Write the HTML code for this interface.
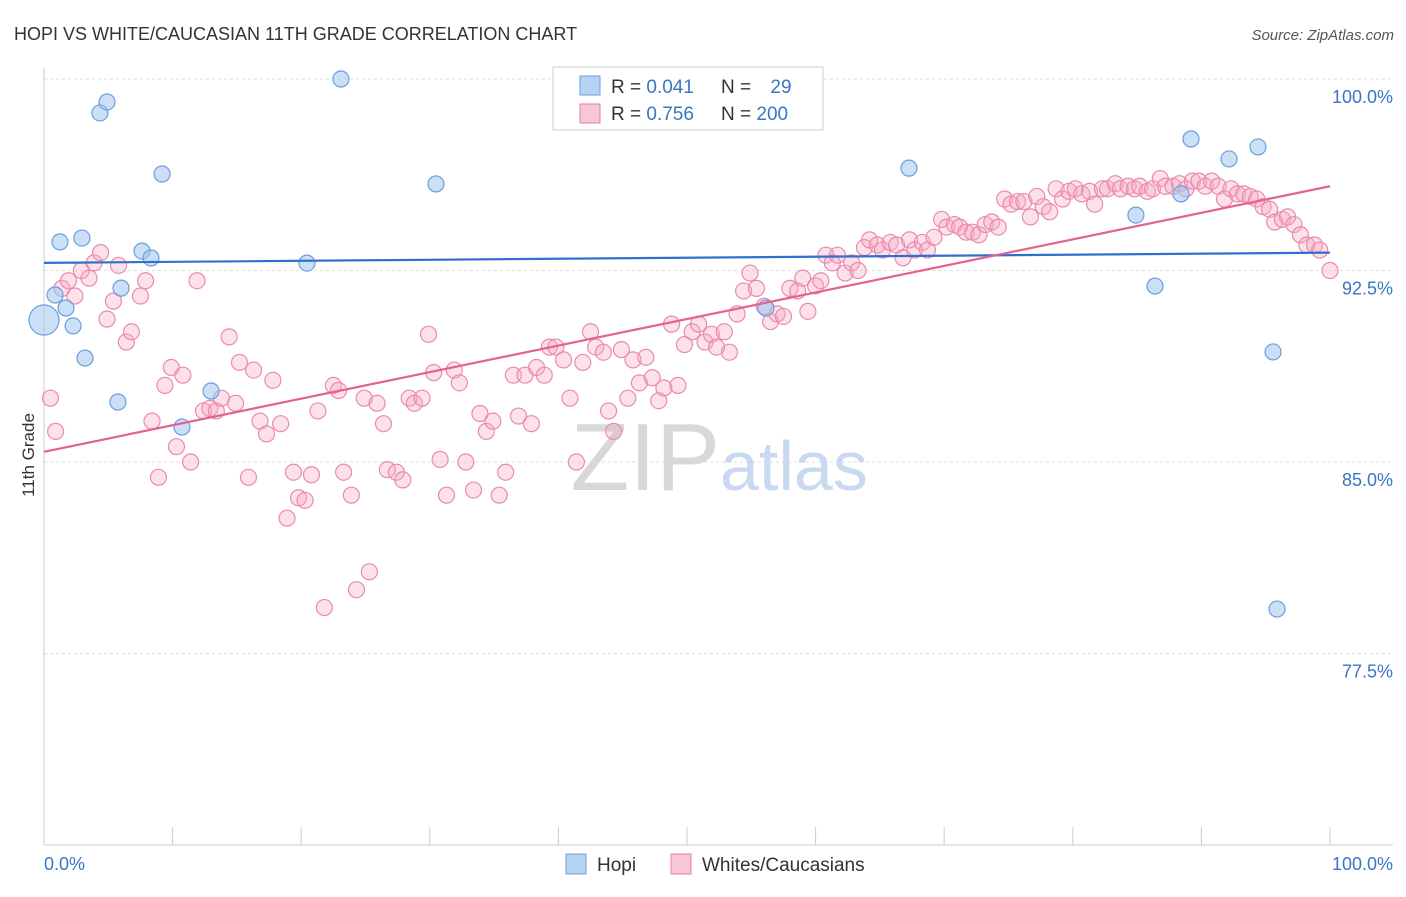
<!DOCTYPE html>
<html><head><meta charset="utf-8"><style>
body{margin:0;background:#fff;font-family:"Liberation Sans",sans-serif;}
svg text{font-family:"Liberation Sans",sans-serif;}
</style></head><body>
<svg id="chart" width="1406" height="892" viewBox="0 0 1406 892">
<text x="14" y="40" font-size="18" fill="#333">HOPI VS WHITE/CAUCASIAN 11TH GRADE CORRELATION CHART</text>
<text x="1394" y="40" font-size="15" fill="#555" text-anchor="end" font-style="italic">Source: ZipAtlas.com</text>
<g id="grid"></g>
<g id="axes"></g>
<text x="720" y="490" font-size="96" fill="#d8d8d8" text-anchor="end" font-family="Liberation Serif">ZIP</text>
<text x="720" y="490" font-size="70" fill="#c9daf0">atlas</text>
<g id="pink"></g>
<g id="blue"></g>
<g id="lines"></g>
<text x="34" y="455" font-size="17" fill="#333" text-anchor="middle" transform="rotate(-90 34 455)">11th Grade</text>
<g>
<rect x="553" y="67" width="270" height="63" fill="#fff" stroke="#ccc"/>
<rect x="580" y="76" width="20" height="19" fill="#b8d2f4" stroke="#6a9fdc"/>
<rect x="580" y="104" width="20" height="19" fill="#f9c6d6" stroke="#e87ea4"/>
<text x="611" y="93" font-size="19" fill="#333">R = <tspan fill="#3a75c4">0.041</tspan></text>
<text x="721" y="93" font-size="19" fill="#333">N = <tspan fill="#3a75c4" dx="14">29</tspan></text>
<text x="611" y="120" font-size="19" fill="#333">R = <tspan fill="#3a75c4">0.756</tspan></text>
<text x="721" y="120" font-size="19" fill="#333">N = <tspan fill="#3a75c4">200</tspan></text>
</g>
<g>
<rect x="566" y="854" width="20" height="20" fill="#b8d2f4" stroke="#6a9fdc"/>
<text x="597" y="871" font-size="19" fill="#333">Hopi</text>
<rect x="671" y="854" width="20" height="20" fill="#f9c6d6" stroke="#e87ea4"/>
<text x="702" y="871" font-size="19" fill="#333">Whites/Caucasians</text>
</g>
</svg>
<script>
const yTicks=[100,92.5,85,77.5];
const yTickLabels=["100.0%","92.5%","85.0%","77.5%"];
const xEndLabels=["0.0%","100.0%"];
const hopiX=[0,0.86,1.24,1.71,2.26,2.95,3.19,4.35,4.9,5.75,5.99,7.62,8.32,9.18,10.73,12.99,20.45,23.09,30.48,56.14,67.26,84.91,86.39,88.41,89.19,92.15,94.4,95.57,95.88];
const hopiY=[90.56,91.54,93.62,91.03,90.33,93.77,89.07,98.67,99.1,87.35,91.81,93.26,92.99,96.28,86.37,87.78,92.79,100,95.89,91.03,96.51,94.67,91.89,95.5,97.65,96.87,97.34,89.31,79.24];
const whiteX=[0.5,0.9,1.4,1.9,2.4,2.9,3.5,3.9,4.4,4.9,5.4,5.8,6.4,6.8,7.5,7.9,8.4,8.9,9.4,9.9,10.3,10.8,11.4,11.9,12.4,12.9,13.4,13.8,14.4,14.9,15.2,15.9,16.3,16.8,17.3,17.8,18.4,18.9,19.4,19.8,20.3,20.8,21.3,21.8,22.5,22.9,23.3,23.9,24.3,24.9,25.3,25.9,26.4,26.7,27.4,27.9,28.4,28.8,29.4,29.9,30.3,30.8,31.3,31.9,32.3,32.8,33.4,33.9,34.4,34.9,35.4,35.9,36.5,36.9,37.4,37.9,38.3,38.9,39.3,39.8,40.4,40.9,41.4,41.9,42.5,42.9,43.5,43.9,44.3,44.9,45.4,45.8,46.3,46.8,47.3,47.8,48.2,48.8,49.3,49.8,50.4,50.9,51.4,51.9,52.3,52.9,53.3,53.9,54.4,54.9,55.4,56.0,56.5,57.0,57.5,58.0,58.6,59.0,59.4,60.0,60.4,60.8,61.3,61.7,62.3,62.8,63.3,63.8,64.2,64.8,65.2,65.8,66.3,66.8,67.3,67.7,68.3,68.7,69.2,69.8,70.2,70.8,71.2,71.7,72.2,72.7,73.2,73.7,74.2,74.7,75.2,75.7,76.2,76.7,77.2,77.7,78.2,78.7,79.2,79.7,80.2,80.7,81.3,81.7,82.3,82.7,83.3,83.7,84.3,84.8,85.2,85.8,86.2,86.8,87.2,87.8,88.3,88.8,89.3,89.8,90.3,90.8,91.3,91.8,92.3,92.8,93.3,93.8,94.3,94.8,95.3,95.7,96.3,96.7,97.2,97.7,98.2,98.8,99.2,100];
const whiteY=[87.5,86.2,91.8,92.1,91.5,92.5,92.2,92.8,93.2,90.6,91.3,92.7,89.7,90.1,91.5,92.1,86.6,84.4,88.0,88.7,85.6,88.4,85.0,92.1,87.0,87.1,87.0,87.5,89.9,87.3,88.9,84.4,88.6,86.6,86.1,88.2,86.5,82.8,84.6,83.6,83.5,84.5,87.0,79.3,88.0,87.8,84.6,83.7,80.0,87.5,80.7,87.3,86.5,84.7,84.6,84.3,87.5,87.3,87.5,90.0,88.5,85.1,83.7,88.6,88.1,85.0,83.9,86.9,86.2,86.6,83.7,84.6,88.4,86.8,88.4,86.5,88.7,88.4,89.5,89.5,89.0,87.5,85.0,88.9,90.1,89.5,89.3,87.0,86.2,89.4,87.5,89.0,88.1,89.1,88.3,87.4,87.9,90.4,88.0,89.6,90.1,90.4,89.7,90.0,89.5,90.1,89.3,90.8,91.7,92.4,91.8,91.1,90.5,90.8,90.7,91.8,91.7,92.2,90.9,91.9,92.1,93.1,92.8,93.1,92.4,92.8,92.5,93.4,93.7,93.5,93.3,93.6,93.5,93.0,93.7,93.3,93.6,93.3,93.8,94.5,94.2,94.3,94.2,94.0,94.0,93.9,94.3,94.4,94.2,95.3,95.1,95.2,95.2,94.6,95.4,95.0,94.8,95.7,95.3,95.6,95.7,95.5,95.6,95.1,95.7,95.7,95.9,95.7,95.8,95.7,95.8,95.6,95.7,96.1,95.8,95.8,95.9,95.7,96.0,96.0,95.8,96.0,95.8,95.3,95.7,95.5,95.5,95.4,95.3,95.0,94.9,94.4,94.5,94.6,94.3,93.9,93.5,93.5,93.3,92.5];
const hopiTrend=[92.8,93.2];
const whiteTrend=[85.4,95.8];
const NS='http://www.w3.org/2000/svg';
function xs(v){return 44+v*12.86;}
function ys(v){return 79+(100-v)/7.5*191.5;}
function mk(t,a,p){const e=document.createElementNS(NS,t);for(const k in a)e.setAttribute(k,a[k]);p.appendChild(e);return e;}
const grid=document.getElementById('grid'),axes=document.getElementById('axes');
yTicks.forEach((v,i)=>{
 const l=mk('line',{x1:44,x2:1393,y1:ys(v),y2:ys(v),stroke:'#ddd','stroke-dasharray':'3,3'},grid);
 
 
 const t=mk('text',{x:1393,y:ys(v)+24,'font-size':18,fill:'#3a75c4','text-anchor':'end'},axes);
 t.textContent=yTickLabels[i];
 
 
});
mk('line',{x1:44,x2:44,y1:68,y2:845,stroke:'#ccc'},axes);
mk('line',{x1:44,x2:1393,y1:845,y2:845,stroke:'#ccc'},axes);
for(let i=0;i<=10;i++){const tk=mk('line',{x1:xs(i*10),x2:xs(i*10),y1:827,y2:845,stroke:'#ccc'},axes);
 
 }
const xl0=mk('text',{x:44,y:870,'font-size':18,fill:'#3a75c4'},axes);xl0.textContent=xEndLabels[0];


const xl1=mk('text',{x:1393,y:870,'font-size':18,fill:'#3a75c4','text-anchor':'end'},axes);xl1.textContent=xEndLabels[1];


const pink=document.getElementById('pink');
whiteX.forEach((x,i)=>{const c=mk('circle',{cx:xs(x),cy:ys(whiteY[i]),r:8,fill:'rgba(246,170,196,0.35)',stroke:'#ea8aae','stroke-width':1.2},pink);
 
 });
const blue=document.getElementById('blue');
hopiX.forEach((x,i)=>{const c=mk('circle',{cx:xs(x),cy:ys(hopiY[i]),r:i===0?15:8,fill:'rgba(160,196,240,0.55)',stroke:'#6a9fdc','stroke-width':1.2},blue);
 
 });
const lines=document.getElementById('lines');
const hl=mk('line',{x1:xs(0),x2:xs(100),y1:ys(hopiTrend[0]),y2:ys(hopiTrend[1]),stroke:'#2f6fd0','stroke-width':2.2},lines);


const wl=mk('line',{x1:xs(0),x2:xs(100),y1:ys(whiteTrend[0]),y2:ys(whiteTrend[1]),stroke:'#e4628f','stroke-width':2.2},lines);


</script>
</body></html>
